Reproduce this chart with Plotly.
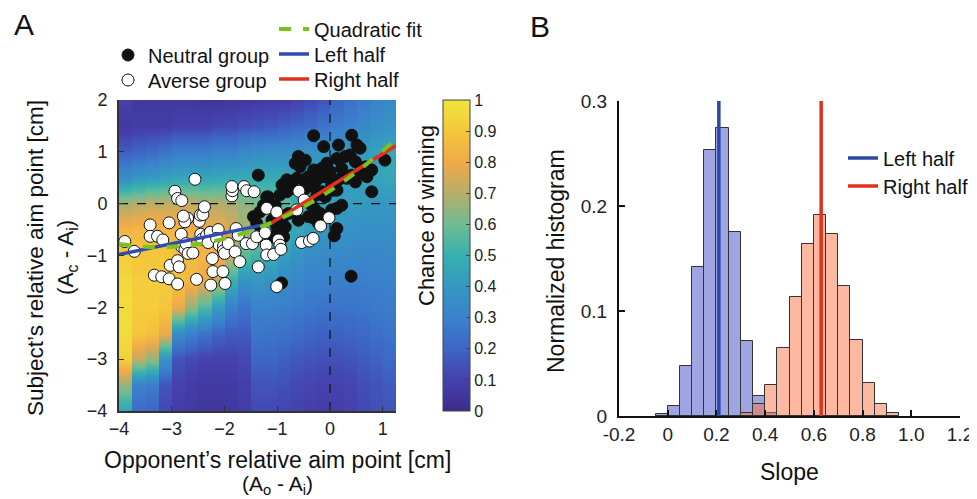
import plotly.graph_objects as go

# ---------------- Panel A data ----------------
HEAT_X = [-3.875, -3.625, -3.375, -3.125, -2.875, -2.625, -2.375, -2.125, -1.875, -1.625,
          -1.375, -1.125, -0.875, -0.625, -0.375, -0.125, 0.125, 0.375, 0.625, 0.875, 1.125]
HEAT_Y = [2, 1.5, 1, 0.5, 0, -0.5, -1, -1.5, -2, -2.5, -3, -3.5, -4]
# chance of winning, one list per column (top y=2 to bottom y=-4)
HEAT_COLS = [
    [0.10, 0.06, 0.18, 0.36, 0.68, 0.84, 0.92, 0.96, 0.97, 0.97, 0.93, 0.65, 0.45],
    [0.06, 0.08, 0.20, 0.40, 0.70, 0.85, 0.90, 0.92, 0.92, 0.90, 0.72, 0.30, 0.22],
    [0.06, 0.08, 0.22, 0.42, 0.72, 0.85, 0.90, 0.92, 0.92, 0.88, 0.65, 0.28, 0.20],
    [0.06, 0.08, 0.25, 0.44, 0.72, 0.85, 0.90, 0.92, 0.90, 0.80, 0.38, 0.15, 0.12],
    [0.06, 0.10, 0.28, 0.46, 0.72, 0.84, 0.88, 0.88, 0.80, 0.35, 0.15, 0.10, 0.08],
    [0.06, 0.10, 0.28, 0.46, 0.72, 0.82, 0.86, 0.85, 0.65, 0.30, 0.12, 0.08, 0.07],
    [0.05, 0.10, 0.28, 0.46, 0.70, 0.80, 0.84, 0.80, 0.55, 0.25, 0.10, 0.07, 0.06],
    [0.05, 0.12, 0.30, 0.47, 0.70, 0.80, 0.82, 0.72, 0.42, 0.20, 0.10, 0.07, 0.06],
    [0.06, 0.12, 0.30, 0.48, 0.68, 0.76, 0.72, 0.50, 0.30, 0.17, 0.10, 0.07, 0.06],
    [0.06, 0.14, 0.33, 0.48, 0.65, 0.68, 0.56, 0.38, 0.25, 0.17, 0.12, 0.09, 0.08],
    [0.07, 0.15, 0.35, 0.48, 0.62, 0.62, 0.52, 0.40, 0.30, 0.26, 0.20, 0.15, 0.12],
    [0.08, 0.16, 0.36, 0.48, 0.60, 0.58, 0.48, 0.38, 0.30, 0.25, 0.20, 0.15, 0.12],
    [0.08, 0.18, 0.36, 0.47, 0.56, 0.52, 0.42, 0.34, 0.29, 0.24, 0.18, 0.14, 0.11],
    [0.10, 0.20, 0.36, 0.46, 0.50, 0.46, 0.38, 0.32, 0.28, 0.22, 0.16, 0.12, 0.10],
    [0.12, 0.22, 0.38, 0.45, 0.48, 0.42, 0.35, 0.30, 0.26, 0.20, 0.15, 0.11, 0.09],
    [0.15, 0.25, 0.38, 0.44, 0.45, 0.40, 0.34, 0.30, 0.25, 0.19, 0.14, 0.10, 0.08],
    [0.20, 0.28, 0.38, 0.42, 0.42, 0.38, 0.33, 0.29, 0.25, 0.19, 0.14, 0.10, 0.09],
    [0.24, 0.30, 0.40, 0.43, 0.42, 0.37, 0.33, 0.29, 0.25, 0.20, 0.15, 0.11, 0.10],
    [0.27, 0.33, 0.42, 0.44, 0.41, 0.36, 0.32, 0.29, 0.26, 0.21, 0.17, 0.13, 0.12],
    [0.30, 0.36, 0.44, 0.45, 0.40, 0.36, 0.32, 0.30, 0.27, 0.23, 0.19, 0.15, 0.14],
    [0.32, 0.38, 0.46, 0.46, 0.40, 0.36, 0.33, 0.30, 0.28, 0.25, 0.21, 0.17, 0.15],
]
COL_HALF = 0.12  # half width of each heat-map column band

NEUTRAL_X = [-0.31, 0.41, -0.12, 0.16, 0.51, 0.57, -0.60, -0.47, -0.66, -0.57, -0.06, 0.13, 0.29,
             0.38, 0.48, 0.67, 1.04, 0.79, -0.31, -0.16, 0.00, 0.22, 0.41, 0.54, 0.70, -1.36,
             -0.91, -0.82, -0.72, -0.63, -0.50, -0.41, -0.25, -0.12, 0.03, 0.16, 0.32, 0.48,
             -0.82, -0.72, -0.47, -0.31, -0.16, 0.03, 0.13, -1.17, -1.04, -0.95, -0.25, -0.09,
             0.79, -0.44, -0.35, -0.28, -0.19, 0.03, 0.13, 0.22, -1.33, -1.26, -1.10, -0.91,
             -0.85, -0.79, -0.60, -0.41, -0.31, -0.22, 0.13, 0.40, -0.92, -1.01, -1.07, -0.88,
             -1.45, -1.20, -1.39, -1.30, -0.95, 0.08, 0.06]
NEUTRAL_Y = [1.31, 1.32, 1.10, 1.13, 1.13, 1.07, 0.91, 0.84, 0.78, 0.71, 0.78, 0.87, 0.91,
             0.94, 0.81, 0.71, 0.84, 0.65, 0.65, 0.68, 0.62, 0.68, 0.55, 0.58, 0.52, 0.55,
             0.36, 0.46, 0.42, 0.49, 0.46, 0.52, 0.46, 0.52, 0.39, 0.46, 0.49, 0.42,
             0.23, 0.29, 0.29, 0.33, 0.23, 0.33, 0.26, 0.13, -0.03, 0.17, 0.17, 0.13,
             0.23, 0.04, -0.03, -0.12, -0.19, -0.12, -0.09, -0.03, -0.16, -0.03, -0.32, -0.32,
             -0.45, -0.19, -0.32, -0.25, -0.28, -0.38, -0.48, -1.40, -1.53, -0.45, -0.64, -0.64,
             -0.25, 0.13, -0.38, -0.50, -0.51, -0.62, 0.26]

AVERSE_X = [-3.89, -3.71, -3.41, -3.41, -3.27, -3.17, -3.05, -3.33, -3.19, -3.05, -2.89, -3.03,
            -2.89, -2.86, -2.94, -2.89, -2.81, -2.56, -2.82, -2.81, -2.75, -2.73, -2.70, -2.75,
            -2.69, -2.60, -2.78, -2.53, -2.48, -2.46, -2.41, -2.38, -2.45, -2.43, -2.34, -2.27,
            -2.31, -2.23, -2.22, -2.26, -2.12, -2.15, -2.10, -2.03, -1.99, -2.02, -2.02, -2.00,
            -1.93, -1.86, -1.85, -1.86, -1.80, -1.78, -1.74, -1.71, -1.63, -1.58, -1.59, -1.47,
            -1.44, -1.39, -1.36, -1.23, -1.21, -1.20, -1.20, -1.07, -1.01, -0.98, -0.95, -0.93,
            -0.59, -0.49, -0.54, -0.39, -0.32, -0.18, -0.02, -1.01, -0.63]
AVERSE_Y = [-0.73, -0.92, -0.41, -0.63, -0.63, -0.70, -0.37, -1.38, -1.41, -1.45, -1.55, -1.19,
            -1.10, -1.22, 0.24, 0.10, 0.06, 0.47, -0.59, -0.83, -0.88, -0.77, -0.28, -0.35,
            -0.96, -0.95, -0.24, -1.46, -0.34, -0.22, -0.21, -0.06, -0.59, -0.69, -0.61, -0.55,
            -0.75, -1.06, -1.31, -1.57, -0.50, -0.67, -0.80, -1.31, -1.54, -0.82, -0.91, -0.96,
            -0.77, 0.15, 0.25, 0.33, -0.93, -0.48, -0.61, -1.12, 0.33, 0.25, -0.77, -0.77,
            0.23, -0.64, -1.22, -0.56, -0.80, -0.99, -0.09, -0.98, -1.60, -0.70, -0.80, -0.88,
            0.24, 0.07, -0.75, -0.72, -0.67, -0.43, -0.27, -0.16, -0.12]

QUAD_X = [-4, -3.5, -3, -2.5, -2, -1.5, -1, -0.5, 0, 0.5, 1, 1.25]
QUAD_Y = [-0.78, -0.83, -0.83, -0.78, -0.675, -0.52, -0.315, -0.06, 0.25, 0.61, 1.02, 1.25]
LEFT_X = [-4, -1.12]
LEFT_Y = [-0.98, -0.38]
RIGHT_X = [-1.12, 1.25]
RIGHT_Y = [-0.38, 1.12]

# ---------------- Panel B data ----------------
BIN_CENTERS = [-0.025, 0.025, 0.075, 0.125, 0.175, 0.225, 0.275, 0.325, 0.375, 0.425,
               0.475, 0.525, 0.575, 0.625, 0.675, 0.725, 0.775, 0.825, 0.875, 0.925]
LEFT_HIST = [0.0015, 0.0095, 0.048, 0.142, 0.253, 0.274, 0.175, 0.071, 0.019, 0.003,
             0, 0, 0, 0, 0, 0, 0, 0, 0, 0]
RIGHT_HIST = [0, 0, 0, 0, 0, 0, 0, 0.003, 0.011, 0.030,
              0.065, 0.113, 0.164, 0.191, 0.173, 0.124, 0.072, 0.031, 0.011, 0.0025]
LEFT_MEAN = 0.21
RIGHT_MEAN = 0.63
BIN_WIDTH = 0.05

FONT = "Liberation Sans, Arial, sans-serif"
PAGE_OFF = 8            # browser body margin
W, H = 977 - PAGE_OFF, 499 - PAGE_OFF


def px(x):
    return (x - PAGE_OFF) / W


def py(y):
    return 1 - (y - PAGE_OFF) / H


# heat-map table (each column band repeated at its two edges)
hx = []
for c in HEAT_X:
    hx += [c - COL_HALF, c + COL_HALF]
hz = [[col[j] for col in HEAT_COLS for _ in (0, 1)] for j in range(len(HEAT_Y))]

colorscale = [[0, '#3b2c8b'], [0.1, '#4541ad'], [0.2, '#3d66c6'], [0.3, '#3a82cb'],
              [0.4, '#3597c2'], [0.5, '#38b0b0'], [0.6, '#6fbc92'], [0.7, '#b7ad6a'],
              [0.8, '#f0aa48'], [0.9, '#f5c63c'], [1, '#f0e63a']]

fig = go.Figure()
fig.add_trace(go.Heatmap(
    x=hx, y=HEAT_Y, z=hz, zmin=0, zmax=1, zsmooth='best', colorscale=colorscale,
    xaxis='x', yaxis='y', showlegend=False,
    colorbar=dict(x=px(443), xanchor='left', y=py(411), yanchor='bottom',
                  thickness=27, thicknessmode='pixels', len=311, lenmode='pixels',
                  xpad=0, ypad=0, outlinewidth=1, outlinecolor='#444',
                  tick0=0, dtick=0.1, ticks='inside', ticklen=4, tickcolor='#444',
                  tickfont=dict(family=FONT, size=16, color='#222')),
))
# dashed reference lines
fig.add_trace(go.Scatter(x=[0, 0], y=[-4, 2], mode='lines', line=dict(color='#111', width=1.2, dash='dash'),
                         showlegend=False, hoverinfo='skip', xaxis='x', yaxis='y'))
fig.add_trace(go.Scatter(x=[-4, 1.25], y=[0, 0], mode='lines', line=dict(color='#111', width=1.2, dash='dash'),
                         showlegend=False, hoverinfo='skip', xaxis='x', yaxis='y'))
fig.add_trace(go.Scatter(x=NEUTRAL_X, y=NEUTRAL_Y, mode='markers', name='Neutral group',
                         marker=dict(size=12, color='#111', line=dict(color='#111', width=1)),
                         legend='legend', xaxis='x', yaxis='y'))
fig.add_trace(go.Scatter(x=AVERSE_X, y=AVERSE_Y, mode='markers', name='Averse group',
                         marker=dict(size=12, color='white', line=dict(color='#111', width=1)),
                         legend='legend2', xaxis='x', yaxis='y'))
fig.add_trace(go.Scatter(x=LEFT_X, y=LEFT_Y, mode='lines', name='Left half',
                         line=dict(color='#2f4db0', width=3.5), legend='legend4', xaxis='x', yaxis='y'))
fig.add_trace(go.Scatter(x=RIGHT_X, y=RIGHT_Y, mode='lines', name='Right half',
                         line=dict(color='#e2301f', width=3.5), legend='legend5', xaxis='x', yaxis='y'))
fig.add_trace(go.Scatter(x=QUAD_X, y=QUAD_Y, mode='lines', name='Quadratic fit', line_shape='spline',
                         line=dict(color='#7cc21c', width=4, dash='dash'), legend='legend3',
                         xaxis='x', yaxis='y'))

# Panel B
fig.add_trace(go.Bar(x=BIN_CENTERS, y=LEFT_HIST, width=BIN_WIDTH, showlegend=False,
                     marker=dict(color='rgba(64,76,200,0.5)', line=dict(color='#333', width=1)),
                     xaxis='x2', yaxis='y2'))
fig.add_trace(go.Bar(x=BIN_CENTERS, y=RIGHT_HIST, width=BIN_WIDTH, showlegend=False,
                     marker=dict(color='rgba(252,114,70,0.5)', line=dict(color='#333', width=1)),
                     xaxis='x2', yaxis='y2'))
fig.add_trace(go.Scatter(x=[LEFT_MEAN, LEFT_MEAN], y=[0, 0.3], mode='lines', name='Left half',
                         line=dict(color='#2b48a6', width=3.5), legend='legend6', xaxis='x2', yaxis='y2'))
fig.add_trace(go.Scatter(x=[RIGHT_MEAN, RIGHT_MEAN], y=[0, 0.3], mode='lines', name='Right half',
                         line=dict(color='#e2301f', width=3.5), legend='legend7', xaxis='x2', yaxis='y2'))

tickfont = dict(family=FONT, size=18, color='#222')
tickfont2 = dict(family=FONT, size=19, color='#222')
legfont = dict(family=FONT, size=20, color='#111')


def leg(xpx, ypx):
    return dict(x=px(xpx), y=py(ypx), xanchor='left', yanchor='middle', bgcolor='rgba(0,0,0,0)',
                font=legfont, tracegroupgap=0, itemwidth=30, borderwidth=0)


fig.update_layout(
    width=W, height=H, margin=dict(l=0, r=0, t=0, b=0, autoexpand=False),
    paper_bgcolor='white', plot_bgcolor='white', barmode='overlay', bargap=0,
    font=dict(family=FONT, color='#222'),
    xaxis=dict(domain=[px(119), px(396)], range=[-4, 1.25], tickvals=[-4, -3, -2, -1, 0, 1],
               ticks='inside', ticklen=5, tickcolor='#333', showline=True, linecolor='#333', linewidth=2,
               showgrid=False, zeroline=False, tickfont=tickfont, anchor='y', automargin=False),
    yaxis=dict(domain=[py(411), py(100)], range=[-4, 2], tickvals=[-4, -3, -2, -1, 0, 1, 2],
               ticks='inside', ticklen=5, tickcolor='#333', showline=True, linecolor='#333', linewidth=2,
               showgrid=False, zeroline=False, tickfont=tickfont, anchor='x', ticklabelstandoff=6,
               automargin=False),
    xaxis2=dict(domain=[px(619), px(960)], range=[-0.2, 1.2],
                tickvals=[-0.2, 0, 0.2, 0.4, 0.6, 0.8, 1.0, 1.2],
                ticktext=['-0.2', '0', '0.2', '0.4', '0.6', '0.8', '1.0', '1.2'],
                ticks='inside', ticklen=6, tickcolor='#111', tickwidth=2, showline=True, linecolor='#111',
                linewidth=2, showgrid=False, zeroline=False, tickfont=tickfont2, anchor='y2',
                automargin=False),
    yaxis2=dict(domain=[py(416), py(101)], range=[0, 0.3], tickvals=[0, 0.1, 0.2, 0.3],
                ticktext=['0', '0.1', '0.2', '0.3'],
                ticks='inside', ticklen=6, tickcolor='#111', tickwidth=2, showline=True, linecolor='#111',
                linewidth=2, showgrid=False, zeroline=False, tickfont=tickfont2, anchor='x2',
                ticklabelstandoff=6, automargin=False),
    legend=leg(108, 55),
    legend2=leg(108, 80),
    legend3=leg(274, 29),
    legend4=leg(274, 54),
    legend5=leg(274, 79),
    legend6=leg(843, 158),
    legend7=leg(843, 186),
)

anns = [
    dict(text='A', x=px(24), y=py(25), size=30),
    dict(text='B', x=px(540), y=py(27), size=30),
    dict(text='Subject’s relative aim point [cm]', x=px(35), y=py(258), textangle=-90, size=22.5),
    dict(text='(A<sub>c</sub> - A<sub>i</sub>)', x=px(67), y=py(258), textangle=-90, size=22.5),
    dict(text='Opponent’s relative aim point [cm]', x=px(277), y=py(460), size=23),
    dict(text='(A<sub>o</sub> - A<sub>i</sub>)', x=px(277), y=py(498.5), size=21, yanchor='bottom'),
    dict(text='Chance of winning', x=px(426), y=py(216), textangle=-90, size=22),
    dict(text='Slope', x=px(789), y=py(472), size=23),
    dict(text='Normalized histogram', x=px(556), y=py(261), textangle=-90, size=23),
]
out = []
for a in anns:
    size = a.pop('size')
    base = dict(xref='paper', yref='paper', showarrow=False, xanchor='center', yanchor='middle',
                borderpad=0, font=dict(family=FONT, size=size, color='#111'))
    base.update(a)
    out.append(base)
fig.update_layout(annotations=out)

fig.write_html("out.html")
